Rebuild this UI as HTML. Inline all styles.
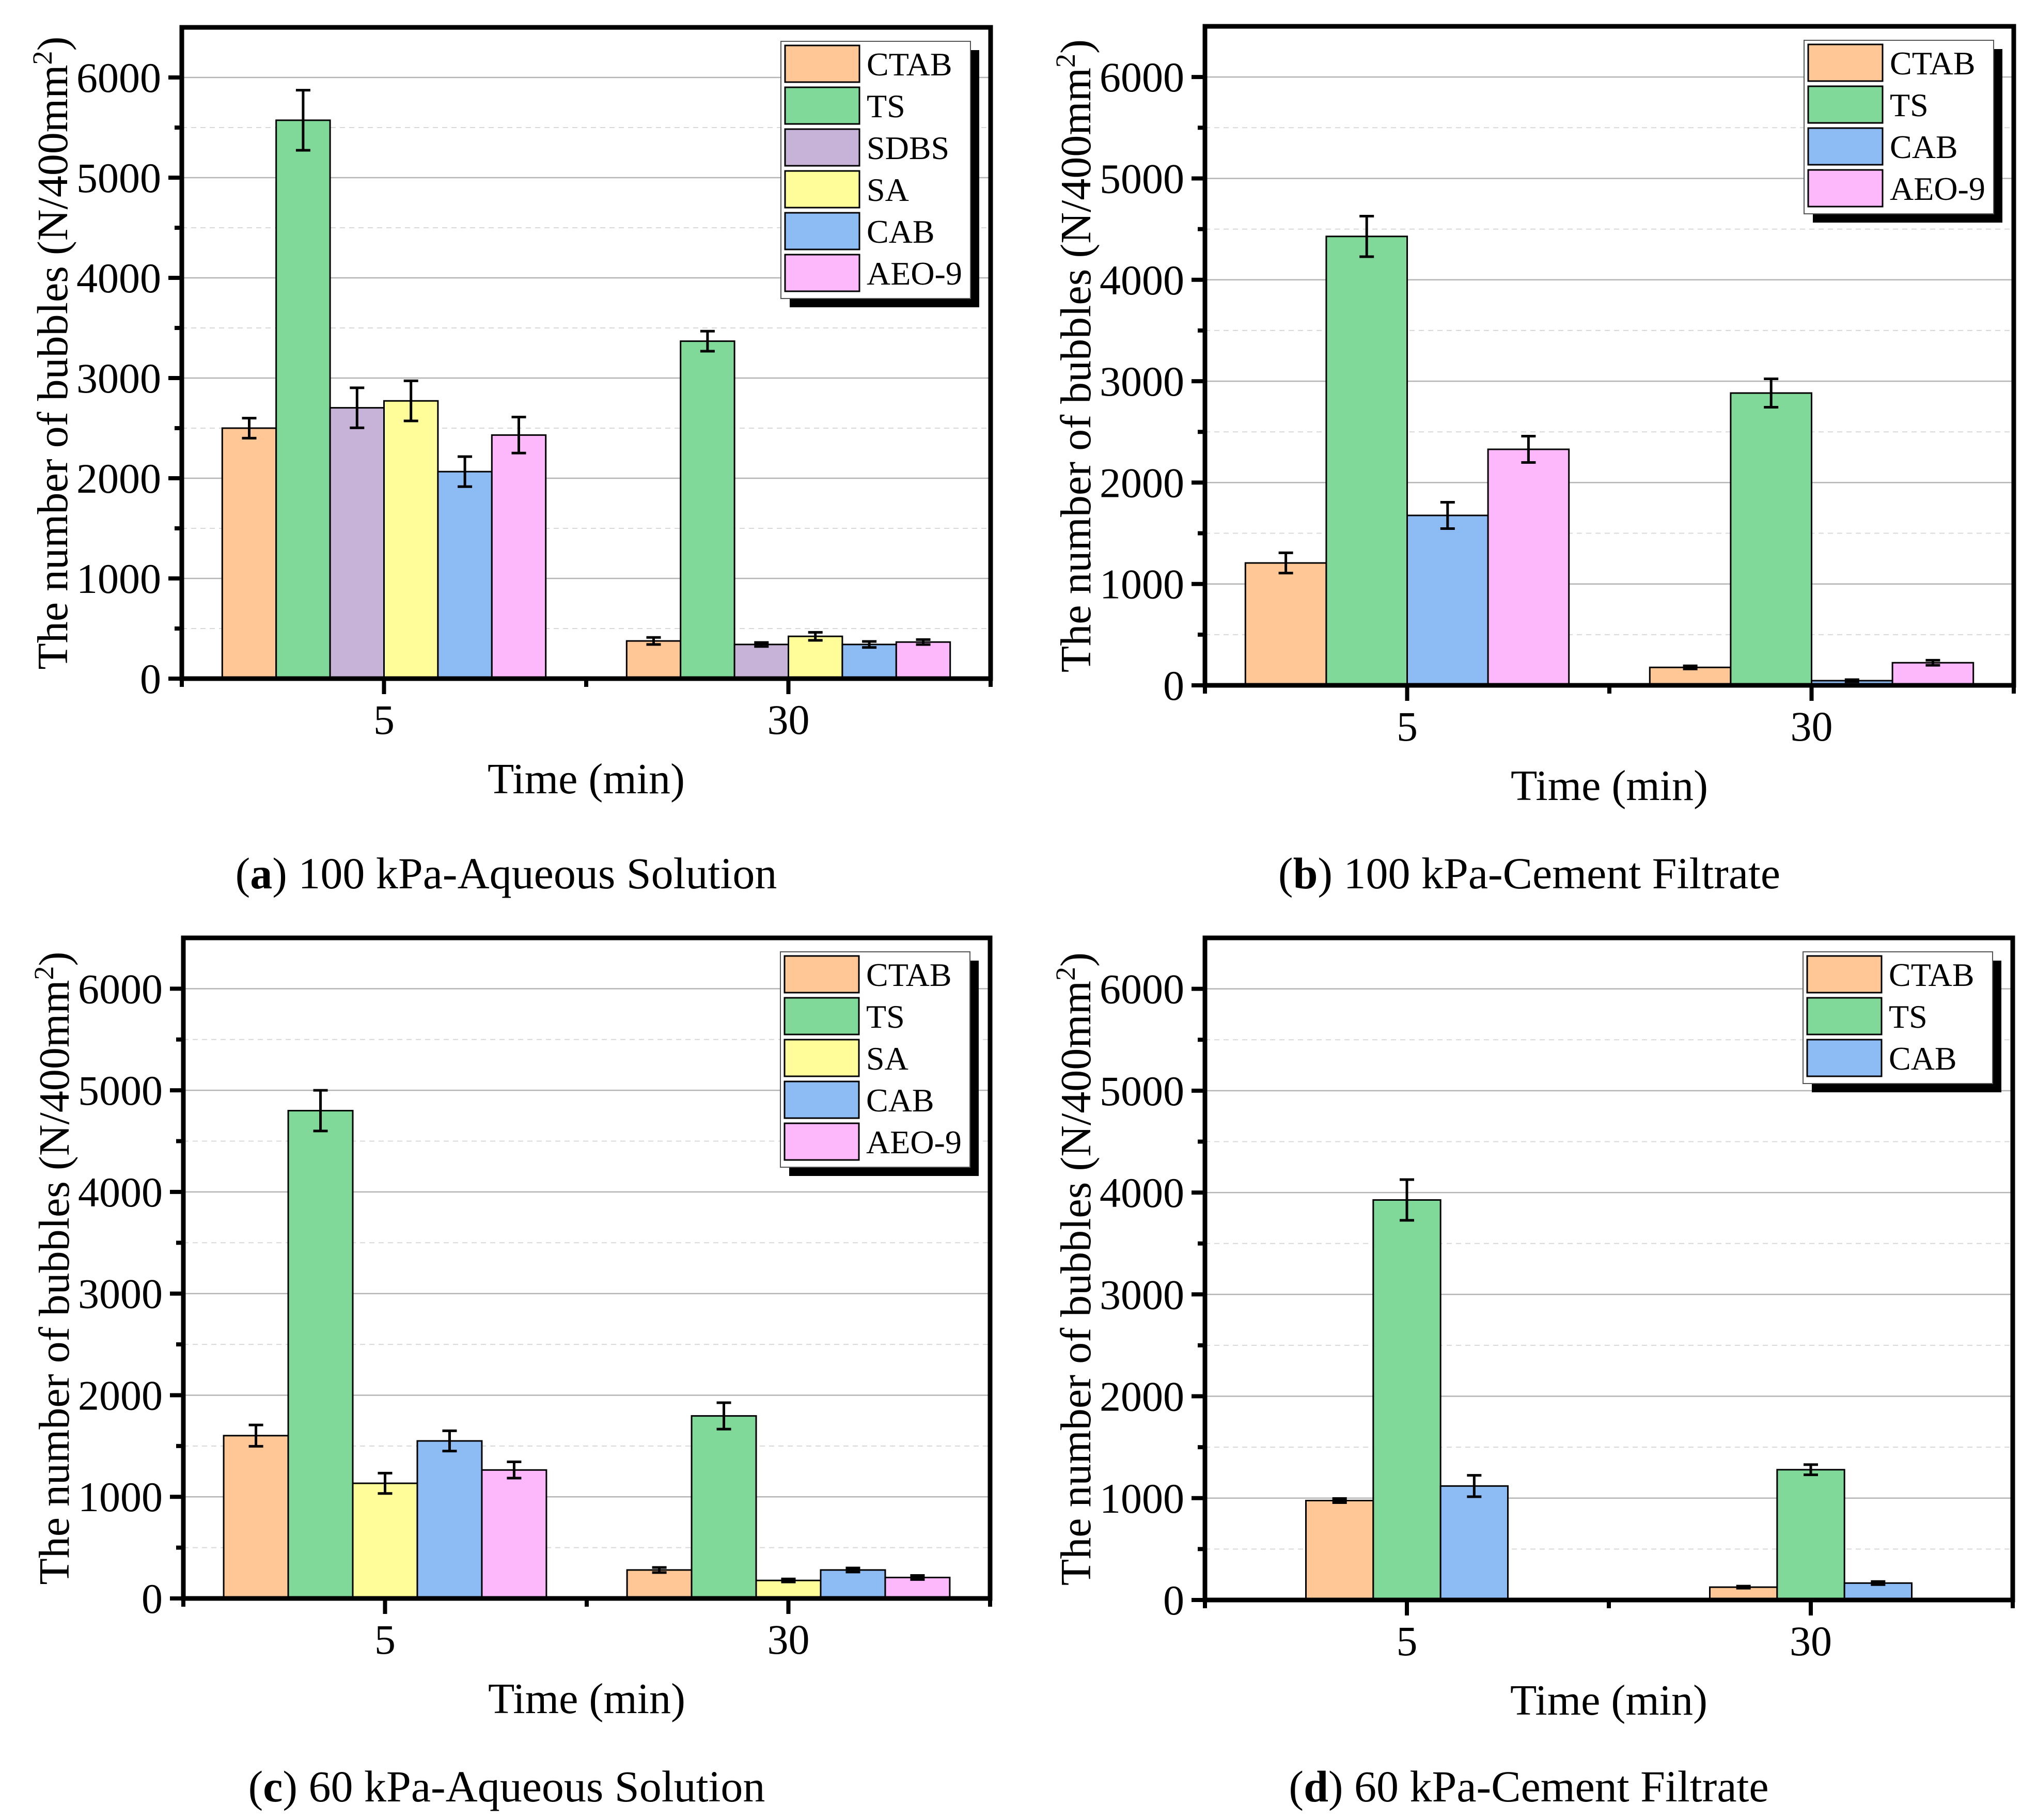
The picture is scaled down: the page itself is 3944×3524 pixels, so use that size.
<!DOCTYPE html>
<html><head><meta charset="utf-8"><style>
html,body{margin:0;padding:0;background:#fff}
svg{display:block}
text{font-family:"Liberation Serif","DejaVu Serif",serif;fill:#000}
</style></head>
<body>
<svg id="fig" xmlns="http://www.w3.org/2000/svg" width="3944" height="3524" viewBox="0 0 3944 3524" font-family="Liberation Serif, serif">
</svg>
<script>
const categories = ["5", "30"];
const yTicks = [0, 1000, 2000, 3000, 4000, 5000, 6000];
const colors = {"CTAB":"#FEC795","TS":"#80D998","SDBS":"#C8B3D8","SA":"#FEFD9A","CAB":"#8DBCF5","AEO-9":"#FDB8FC"};

const seriesA = ["CTAB","TS","SDBS","SA","CAB","AEO-9"];
const valuesA = [[2500,376],[5573,3368],[2703,341],[2772,422],[2066,341],[2431,365]];
const errorsA = [[100,35],[300,100],[200,20],[200,40],[150,30],[180,25]];

const seriesB = ["CTAB","TS","CAB","AEO-9"];
const valuesB = [[1207,177],[4428,2883],[1676,46],[2328,223]];
const errorsB = [[100,15],[200,140],[130,10],[130,25]];

const seriesC = ["CTAB","TS","SA","CAB","AEO-9"];
const valuesC = [[1602,280],[4800,1796],[1133,177],[1550,280],[1264,206]];
const errorsC = [[105,25],[200,130],[100,15],[100,20],[80,20]];

const seriesD = ["CTAB","TS","CAB"];
const valuesD = [[976,126],[3927,1279],[1119,166]];
const errorsD = [[20,10],[200,50],[105,15]];

const NS = "http://www.w3.org/2000/svg";
const svg = document.getElementById("fig");
function mk(tag, attrs, parent){
  const e = document.createElementNS(NS, tag);
  for (const k in attrs) e.setAttribute(k, attrs[k]);
  if (tag === "text") e.setAttribute("font-family", "Liberation Serif, serif");
  (parent||svg).appendChild(e);
  return e;
}

function panel(id, L, R, T, B, series, values, errors, groupFrac, caption, letter, capY){
  const g = mk("g", {});
  
  
  const yMax = 6500;
  const y = v => B - v / yMax * (B - T);
  const W = R - L;
  const x = i => L + W * (0.25 + 0.5 * i);
  const spacing = W * 0.5;
  for (let v = 500; v < 6500; v += 500) {
    const major = v % 1000 === 0;
    const gl = mk("line", {x1:L, x2:R, y1:y(v), y2:y(v), stroke: major ? "#b4b4b4" : "#d8d8d8", "stroke-width": major?2.5:2, "stroke-dasharray": major ? "none" : "10,8"}, g);
    
    
  }
  const n = series.length;
  const bw = spacing * groupFrac / n;
  for (let c = 0; c < categories.length; c++) {
    const start = x(c) - spacing * groupFrac / 2;
    for (let s = 0; s < n; s++) {
      const v = values[s][c];
      const bx = start + s * bw;
      const r = mk("rect", {x:bx, y:y(v), width:bw, height:B - y(v), fill:colors[series[s]], stroke:"#000", "stroke-width":3}, g);
      
      
      const e = errors[s][c];
      const cx = bx + bw / 2;
      const eb = mk("path", {d:`M${cx-14},${y(v+e)}H${cx+14}M${cx},${y(v+e)}V${y(v-e)}M${cx-14},${y(v-e)}H${cx+14}`, stroke:"#000", "stroke-width":5, fill:"none"}, g);
      
      
    }
  }
  const fr = mk("rect", {x:L, y:T, width:W, height:B - T, fill:"none", stroke:"#000", "stroke-width":9}, g);
  
  
  for (let v = 0; v <= 6000; v += 500) {
    const major = v % 1000 === 0;
    const tk = mk("line", {x1:L - (major ? 26 : 14), x2:L, y1:y(v), y2:y(v), stroke:"#000", "stroke-width":8}, g);
    
    
  }
  yTicks.forEach(v => {
    const t = mk("text", {x:L - 40, y:y(v) + 28, "text-anchor":"end", "font-size":82}, g);
    t.textContent = v;
    
    
  });
  [L, L + W/2, R].forEach(px => {
    const tk = mk("line", {x1:px, x2:px, y1:B, y2:B + 16, stroke:"#000", "stroke-width":8}, g);
    
    
  });
  categories.forEach((c, i) => {
    const tk = mk("line", {x1:x(i), x2:x(i), y1:B, y2:B + 30, stroke:"#000", "stroke-width":8}, g);
    
    
    const t = mk("text", {x:x(i), y:B + 107, "text-anchor":"middle", "font-size":82}, g);
    t.textContent = c;
    
    
  });
  const xt = mk("text", {x:L + W/2, y:B + 222, "text-anchor":"middle", "font-size":84}, g);
  xt.textContent = "Time (min)";
  
  
  const ycx = L - 222, ycy = (T + B) / 2;
  const yt = mk("text", {x:ycx, y:ycy, "text-anchor":"middle", "font-size":84, transform:`rotate(-90 ${ycx} ${ycy})`}, g);
  yt.innerHTML = 'The number of bubbles (N/400mm<tspan dy="-30" font-size="54">2</tspan><tspan dy="30">)</tspan>';
  
  
  const lw = 367, lx = R - 406, ly = T + 27, rowH = 81;
  const lh = n * rowH + 12;
  const sh = mk("rect", {x:lx + 17, y:ly + 17, width:lw, height:lh, fill:"#000"}, g);
  
  
  const lb = mk("rect", {x:lx, y:ly, width:lw, height:lh, fill:"#fff", stroke:"#555", "stroke-width":2}, g);
  
  
  series.forEach((s, i) => {
    const sw = mk("rect", {x:lx + 8, y:ly + 8 + i * rowH, width:144, height:71, fill:colors[s], stroke:"#000", "stroke-width":3}, g);
    
    
    const t = mk("text", {x:lx + 166, y:ly + 8 + i * rowH + 58, "font-size":64}, g);
    t.textContent = s;
    
    
  });
  const cp = mk("text", {x:L + W/2 - 155, y:capY, "text-anchor":"middle", "font-size":86}, g);
  cp.innerHTML = '(<tspan font-weight="bold">' + letter + '</tspan>) ' + caption;
  
  
}

panel("a", 352, 1918, 53, 1314, seriesA, valuesA, errorsA, 0.8, "100 kPa-Aqueous Solution", "a", 1720);
panel("b", 2333, 3899, 51, 1327, seriesB, valuesB, errorsB, 0.8, "100 kPa-Cement Filtrate", "b", 1720);
panel("c", 355, 1917, 1816, 3095, seriesC, valuesC, errorsC, 0.8, "60 kPa-Aqueous Solution", "c", 3488);
panel("d", 2333, 3897, 1816, 3098, seriesD, valuesD, errorsD, 0.5, "60 kPa-Cement Filtrate", "d", 3488);
</script>
</body></html>
